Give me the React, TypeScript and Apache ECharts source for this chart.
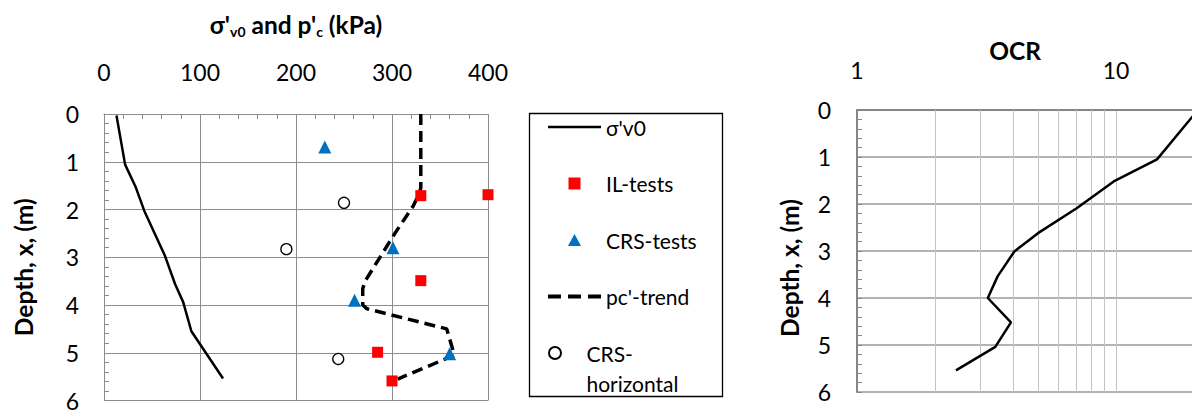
import React, { useEffect, useRef } from "react";
import * as echarts from "echarts";

// ---------- data ----------
const sigmaDepth = [0.03, 1.06, 1.53, 2.03, 2.97, 3.56, 3.94, 4.55, 5.54];
const sigmaKPa = [13, 22, 33, 42, 63.5, 74, 82.5, 91, 124];

const trendDepth = [0, 1.55, 1.68, 1.93, 2.5, 3.5, 3.66, 4.0, 4.08, 4.5, 5.05, 5.55];
const trendKPa = [330, 330, 328, 322, 303, 272, 269.5, 269.5, 274, 357, 365, 306];

const ilDepth = [1.71, 1.69, 3.49, 4.99, 5.59];
const ilKPa = [330, 400, 330, 285, 300];

const crsDepth = [0.69, 2.8, 3.9, 5.02];
const crsKPa = [230, 301, 261, 360];

const crsHDepth = [1.86, 2.83, 5.13];
const crsHKPa = [250, 190, 244];

const ocrDepth = [0.03, 1.05, 1.52, 2.09, 2.62, 3.01, 3.54, 4.0, 4.52, 5.04, 5.54];
const ocrValue = [20.5, 14.4, 9.8, 7.05, 5.0, 4.05, 3.49, 3.2, 3.93, 3.42, 2.41];

const ocrMinorTicks = [2, 3, 4, 5, 6, 7, 8, 9, 20, 30, 40, 50, 60, 70, 80, 90];

const FONT = "Lato, 'Open Sans', sans-serif";
const GRID_C = "#8c8c8c";

// legend icon shapes
const ICON_LINE = "path://M0,0h53v2.5h-53z";
const ICON_DASH = "path://M0,0h12v3.6h-12zM18.5,0h12v3.6h-12zM37,0h12v3.6h-12z";
const ICON_SQUARE = "path://M0,0h10v10h-10z";
const ICON_TRI = "path://M6,0L12,11L0,11z";
const ICON_CIRCLE = "path://M0,5a5,5 0 1,0 10,0a5,5 0 1,0 -10,0z";

const zip = (xs: number[], ys: number[]) => xs.map((x, i) => [x, ys[i]]);

export default function App() {
  const ref = useRef<HTMLDivElement>(null);

  useEffect(() => {
    if (!ref.current) return;
    const chart = echarts.init(ref.current, null, { renderer: "svg" });

    const labelStyle = { fontSize: 23, color: "#000", fontFamily: FONT };
    const nameStyle = { fontSize: 24.5, fontWeight: "bold" as const, color: "#000", fontFamily: FONT };
    const legendText = { fontSize: 21, fontFamily: FONT, color: "#000", lineHeight: 30 };

    chart.setOption({
      animation: false,
      backgroundColor: "#fff",
      grid: [
        { left: 104, top: 114, width: 384, height: 288 },
        { left: 857, top: 110, width: 518, height: 282 },
      ],
      xAxis: [
        {
          gridIndex: 0,
          type: "value",
          position: "top",
          min: 0,
          max: 400,
          interval: 100,
          axisLine: { show: true, lineStyle: { color: GRID_C, width: 1 } },
          axisTick: { show: true, inside: true, length: 5, lineStyle: { color: GRID_C } },
          minorTick: { show: true, splitNumber: 5, length: 5, lineStyle: { color: GRID_C } },
          splitLine: { show: true, lineStyle: { color: GRID_C, width: 1 } },
          axisLabel: { ...labelStyle, margin: 31 },
          name: "{m|σ'}{s|v0}{m| and p'}{s|c}{m| (kPa)}",
          nameLocation: "middle",
          nameGap: 76,
          nameTextStyle: {
            ...nameStyle,
            rich: {
              m: { fontSize: 24.5, fontWeight: "bold", fontFamily: FONT, color: "#000", lineHeight: 28 },
              s: {
                fontSize: 14,
                fontWeight: "bold",
                fontFamily: FONT,
                color: "#000",
                lineHeight: 15,
                verticalAlign: "bottom",
              },
            },
          },
        },
        {
          gridIndex: 1,
          type: "log",
          logBase: 10,
          position: "top",
          min: 1,
          max: 100,
          axisLine: { show: true, lineStyle: { color: "#868686", width: 2 } },
          axisTick: { show: false },
          splitLine: { show: true, lineStyle: { color: "#c4c4c4", width: 1 } },
          axisLabel: { ...labelStyle, margin: 29, showMaxLabel: false },
        },
      ],
      yAxis: [
        {
          gridIndex: 0,
          type: "value",
          inverse: true,
          min: 0,
          max: 6,
          interval: 1,
          axisLine: { show: true, lineStyle: { color: GRID_C, width: 1 } },
          axisTick: { show: true, inside: true, length: 5, lineStyle: { color: GRID_C } },
          minorTick: { show: true, splitNumber: 5, length: 5, lineStyle: { color: GRID_C } },
          splitLine: { show: true, lineStyle: { color: GRID_C, width: 1 } },
          axisLabel: { ...labelStyle, margin: 25, lineHeight: 18 },
          name: "Depth, x, (m)",
          nameLocation: "middle",
          nameGap: 68,
          nameTextStyle: { ...nameStyle, padding: [0, 20, 0, 0] },
        },
        {
          gridIndex: 1,
          type: "value",
          inverse: true,
          min: 0,
          max: 6,
          interval: 1,
          axisLine: { show: true, lineStyle: { color: "#868686", width: 2 } },
          axisTick: { show: true, inside: true, length: 5, lineStyle: { color: "#868686" } },
          minorTick: { show: true, splitNumber: 5, length: 5, lineStyle: { color: "#868686" } },
          splitLine: { show: true, lineStyle: { color: "#9a9a9a", width: 1.5 } },
          axisLabel: { ...labelStyle, margin: 26, lineHeight: 18 },
          name: "Depth, x, (m)",
          nameLocation: "middle",
          nameGap: 55,
          nameTextStyle: { ...nameStyle, padding: [0, 34, 0, 0] },
        },
      ],
      legend: [
        {
          orient: "vertical",
          left: 548,
          top: 112,
          padding: 0,
          itemWidth: 53,
          itemHeight: 12,
          itemGap: 26.5,
          selectedMode: false,
          symbolKeepAspect: true,
          data: [
            { name: "σ'v0", icon: ICON_LINE },
            { name: "IL-tests", icon: ICON_SQUARE },
            { name: "CRS-tests", icon: ICON_TRI },
            { name: "pc'-trend", icon: ICON_DASH },
          ],
          textStyle: legendText,
        },
        {
          orient: "vertical",
          left: 548,
          top: 308,
          padding: 0,
          itemWidth: 53,
          itemHeight: 12,
          selectedMode: false,
          symbolKeepAspect: true,
          data: [{ name: "CRS-horizontal", icon: ICON_CIRCLE }],
          formatter: () => " \nCRS-\nhorizontal",
          textStyle: legendText,
        },
      ],
      graphic: [
        {
          type: "rect",
          z: 0,
          shape: { x: 529.5, y: 113.5, width: 193, height: 283 },
          style: { fill: "none", stroke: "#000", lineWidth: 1.3 },
          silent: true,
        },
        {
          type: "text",
          x: 1015,
          y: 50,
          style: {
            text: "OCR",
            font: `bold 24.5px ${FONT}`,
            fill: "#000",
            align: "center",
            verticalAlign: "middle",
            textAlign: "center",
            textVerticalAlign: "middle",
          },
          silent: true,
        },
      ],
      series: [
        {
          name: "σ'v0",
          type: "line",
          xAxisIndex: 0,
          yAxisIndex: 0,
          data: zip(sigmaKPa, sigmaDepth),
          symbol: "none",
          showSymbol: false,
          lineStyle: { color: "#000", width: 2.5 },
          itemStyle: { color: "#000" },
          z: 2,
        },
        {
          name: "pc'-trend",
          type: "line",
          xAxisIndex: 0,
          yAxisIndex: 0,
          data: zip(trendKPa, trendDepth),
          symbol: "none",
          showSymbol: false,
          lineStyle: { color: "#000", width: 3.5, type: [11, 6], cap: "butt" },
          itemStyle: { color: "#000" },
          z: 2,
        },
        {
          name: "IL-tests",
          type: "scatter",
          xAxisIndex: 0,
          yAxisIndex: 0,
          data: zip(ilKPa, ilDepth),
          symbol: "rect",
          symbolSize: 11,
          clip: false,
          itemStyle: { color: "#ff0000", opacity: 1 },
          z: 3,
        },
        {
          name: "CRS-tests",
          type: "scatter",
          xAxisIndex: 0,
          yAxisIndex: 0,
          data: zip(crsKPa, crsDepth),
          symbol: "triangle",
          symbolSize: 13,
          clip: false,
          itemStyle: { color: "#0070c0", opacity: 1 },
          z: 3,
        },
        {
          name: "CRS-horizontal",
          type: "scatter",
          xAxisIndex: 0,
          yAxisIndex: 0,
          data: zip(crsHKPa, crsHDepth),
          symbol: "circle",
          symbolSize: 11,
          clip: false,
          itemStyle: { color: "#fff", borderColor: "#000", borderWidth: 1.3, opacity: 1 },
          z: 3,
        },
        {
          name: "OCR",
          type: "line",
          xAxisIndex: 1,
          yAxisIndex: 1,
          data: zip(ocrValue, ocrDepth),
          symbol: "none",
          showSymbol: false,
          lineStyle: { color: "#000", width: 2.5 },
          z: 3,
          markLine: {
            silent: true,
            symbol: ["none", "none"],
            label: { show: false },
            lineStyle: { color: "#c4c4c4", width: 1, type: "solid" },
            data: ocrMinorTicks.map((v) => ({ xAxis: v })),
            z: 1,
          },
        },
      ],
    });

    return () => chart.dispose();
  }, []);

  return (
    <div
      style={{
        position: "fixed",
        left: 0,
        top: 0,
        width: 1192,
        height: 412,
        overflow: "hidden",
        background: "#fff",
      }}
    >
      <div ref={ref} style={{ width: 1400, height: 412 }} />
    </div>
  );
}
